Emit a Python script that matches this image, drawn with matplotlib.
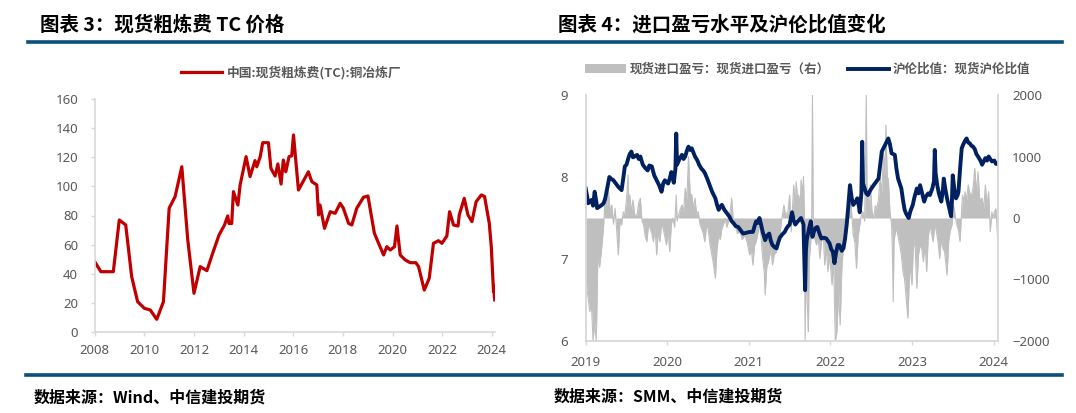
import matplotlib
matplotlib.use("Agg")
import matplotlib.pyplot as plt
from matplotlib.lines import Line2D
from matplotlib.patches import Patch

plt.rcParams['font.family'] = ['Noto Sans CJK SC', 'DejaVu Sans']

# ---- chart 3: spot TC (USD/t), decimal years ----
tc_year = [2008.00, 2008.25, 2008.75, 2008.99, 2009.25, 2009.49, 2009.73, 2010.00,
           2010.24, 2010.50, 2010.77, 2011.00, 2011.24, 2011.51, 2011.75, 2012.00,
           2012.25, 2012.52, 2012.78, 2013.01, 2013.23, 2013.36, 2013.41, 2013.52,
           2013.59, 2013.77, 2013.86, 2014.10, 2014.26, 2014.46, 2014.53, 2014.67,
           2014.77, 2015.00, 2015.10, 2015.27, 2015.38, 2015.51, 2015.60, 2015.70,
           2015.83, 2015.94, 2016.01, 2016.21, 2016.61, 2016.75, 2016.95, 2017.02,
           2017.08, 2017.26, 2017.49, 2017.69, 2017.89, 2018.02, 2018.23, 2018.36,
           2018.56, 2018.83, 2019.01, 2019.27, 2019.44, 2019.64, 2019.77, 2019.91,
           2020.08, 2020.18, 2020.31, 2020.51, 2020.71, 2020.94, 2021.05, 2021.28,
           2021.48, 2021.65, 2021.85, 2021.99, 2022.19, 2022.30, 2022.46, 2022.64,
           2022.69, 2022.89, 2023.04, 2023.20, 2023.37, 2023.58, 2023.71, 2023.90,
           2023.98, 2024.07, 2024.09, 2024.10, 2024.12]
tc_value = [48.3, 41.4, 41.4, 76.9, 73.5, 38.0, 20.8, 16.3,
            15.1, 8.7, 20.8, 85.0, 93.0, 113.5, 63.2, 26.6,
            44.9, 42.1, 55.4, 66.6, 73.5, 79.7, 74.5, 74.5,
            96.4, 87.2, 101.0, 120.4, 106.7, 117.7, 113.5, 120.4,
            130.0, 130.0, 112.4, 107.1, 115.4, 101.6, 118.1, 110.0,
            120.4, 121.0, 135.3, 97.5, 110.0, 103.2, 101.0, 80.4,
            87.2, 71.2, 82.6, 81.5, 88.4, 85.0, 74.6, 73.5,
            85.0, 92.5, 93.4, 67.8, 60.9, 52.9, 58.6, 56.3,
            58.6, 72.8, 52.9, 49.5, 47.6, 47.6, 44.9, 28.8,
            36.9, 60.9, 62.7, 60.9, 65.9, 82.6, 73.5, 72.8,
            80.4, 91.8, 80.4, 75.8, 89.5, 94.1, 93.0, 74.6,
            58.6, 27.7, 32.0, 25.0, 22.0]

# ---- chart 4: import profit (right axis) and SHFE/LME ratio (left axis) ----
pl_year = [2019.00, 2019.01, 2019.03, 2019.05, 2019.07, 2019.09, 2019.11, 2019.13,
           2019.15, 2019.17, 2019.20, 2019.22, 2019.24, 2019.26, 2019.28, 2019.30,
           2019.32, 2019.34, 2019.36, 2019.38, 2019.40, 2019.42, 2019.44, 2019.46,
           2019.48, 2019.50, 2019.52, 2019.53, 2019.54, 2019.56, 2019.58, 2019.60,
           2019.63, 2019.65, 2019.67, 2019.69, 2019.71, 2019.73, 2019.75, 2019.77,
           2019.79, 2019.81, 2019.83, 2019.85, 2019.87, 2019.89, 2019.91, 2019.93,
           2019.95, 2019.97, 2019.99, 2020.01, 2020.03, 2020.05, 2020.07, 2020.09,
           2020.11, 2020.12, 2020.14, 2020.16, 2020.18, 2020.20, 2020.22, 2020.24,
           2020.26, 2020.28, 2020.30, 2020.32, 2020.34, 2020.36, 2020.38, 2020.40,
           2020.42, 2020.44, 2020.46, 2020.48, 2020.50, 2020.52, 2020.54, 2020.56,
           2020.59, 2020.61, 2020.63, 2020.65, 2020.67, 2020.69, 2020.71, 2020.73,
           2020.75, 2020.77, 2020.79, 2020.81, 2020.83, 2020.86, 2020.89, 2020.92,
           2020.95, 2020.98, 2021.01, 2021.03, 2021.05, 2021.07, 2021.09, 2021.11,
           2021.13, 2021.15, 2021.17, 2021.19, 2021.20, 2021.22, 2021.25, 2021.27,
           2021.29, 2021.31, 2021.34, 2021.36, 2021.38, 2021.40, 2021.43, 2021.45,
           2021.48, 2021.50, 2021.52, 2021.55, 2021.57, 2021.58, 2021.60, 2021.61,
           2021.63, 2021.64, 2021.66, 2021.67, 2021.68, 2021.69, 2021.70, 2021.71,
           2021.72, 2021.73, 2021.74, 2021.75, 2021.77, 2021.78, 2021.79, 2021.81,
           2021.83, 2021.85, 2021.87, 2021.89, 2021.91, 2021.93, 2021.95, 2021.97,
           2021.99, 2022.02, 2022.04, 2022.06, 2022.08, 2022.10, 2022.12, 2022.14,
           2022.16, 2022.18, 2022.20, 2022.22, 2022.24, 2022.25, 2022.27, 2022.28,
           2022.30, 2022.32, 2022.34, 2022.36, 2022.38, 2022.40, 2022.42, 2022.44,
           2022.45, 2022.46, 2022.48, 2022.49, 2022.51, 2022.53, 2022.55, 2022.57,
           2022.59, 2022.61, 2022.63, 2022.65, 2022.67, 2022.68, 2022.70, 2022.71,
           2022.73, 2022.75, 2022.76, 2022.77, 2022.78, 2022.79, 2022.81, 2022.83,
           2022.85, 2022.87, 2022.89, 2022.91, 2022.93, 2022.95, 2022.97, 2022.98,
           2023.00, 2023.02, 2023.04, 2023.06, 2023.08, 2023.10, 2023.12, 2023.14,
           2023.16, 2023.18, 2023.20, 2023.22, 2023.24, 2023.26, 2023.28, 2023.30,
           2023.32, 2023.34, 2023.36, 2023.38, 2023.40, 2023.43, 2023.45, 2023.47,
           2023.49, 2023.51, 2023.53, 2023.55, 2023.57, 2023.59, 2023.61, 2023.62,
           2023.64, 2023.65, 2023.67, 2023.69, 2023.71, 2023.73, 2023.75, 2023.77,
           2023.79, 2023.81, 2023.83, 2023.86, 2023.88, 2023.90, 2023.92, 2023.94,
           2023.96, 2023.98, 2023.99, 2024.01, 2024.03, 2024.05, 2024.06]
pl_value = [-1000, -1089, -1300, -1523, -1400, -2000, -1700, -2000,
            -547, -800, -439, -114, 374, 200, 428, 100,
            211, -100, 157, -200, -602, -50, -114, 100,
            49, 300, 699, 150, 374, 100, 293, 50,
            49, 250, 320, -50, -114, -300, -385, -100,
            -168, -250, -385, -150, -602, -200, -385, -100,
            -168, -300, -439, -200, -547, -100, -5, -150,
            374, -50, 49, 150, 211, 100, 482, 300,
            997, 400, 374, 150, 320, 50, 103, -100,
            -168, -250, -385, -150, -168, -400, -547, -700,
            -981, -500, -276, -350, -168, -100, -5, -150,
            -60, 100, 320, -50, -114, -250, -222, -350,
            -276, -400, -602, -500, -764, -450, -385, -250,
            -114, -300, -656, -900, -1252, -800, -656, -500,
            -764, -600, -547, -300, -276, -50, 211, 50,
            103, 374, -222, 537, 200, 591, 300, 374,
            200, 618, 400, 672, 100, -2000, -900, -1198,
            -1500, -1848, -700, -547, -200, 2000, -276, -350,
            -439, -300, -656, -400, -168, -764, -500, -873,
            -600, -1089, -700, -2000, -1848, -1198, -1740, -818,
            -439, -168, -50, 157, 100, 265, -100, -276,
            -400, -818, -300, -114, 50, 103, -50, 2000,
            200, 374, 150, 537, 100, -5, 200, 157,
            300, 645, 400, 1078, 700, 1512, 500, 645,
            100, -114, -500, -1361, -400, -276, -168, -300,
            -439, -600, -873, -1000, -1306, -1631, -900, -818,
            -1089, -330, -500, -1143, -600, -439, -500, -710,
            -400, -873, -300, -114, -250, -385, -100, -222,
            -400, -656, -330, -500, -547, -927, -385, -200,
            -114, 211, 50, -114, -200, -385, 150, 374,
            250, 428, 300, 537, 400, 374, 500, 808,
            400, 753, 300, 320, 150, 537, 200, 428,
            -222, 100, -5, 103, 150, -330, 100]

ratio_year = [2019.00, 2019.02, 2019.03, 2019.05, 2019.07, 2019.09, 2019.11, 2019.13,
              2019.14, 2019.17, 2019.20, 2019.22, 2019.24, 2019.27, 2019.29, 2019.31,
              2019.34, 2019.37, 2019.40, 2019.42, 2019.44, 2019.46, 2019.48, 2019.50,
              2019.52, 2019.54, 2019.56, 2019.58, 2019.60, 2019.63, 2019.65, 2019.67,
              2019.70, 2019.73, 2019.76, 2019.78, 2019.81, 2019.84, 2019.87, 2019.90,
              2019.93, 2019.95, 2019.97, 2020.01, 2020.03, 2020.05, 2020.08, 2020.10,
              2020.11, 2020.12, 2020.15, 2020.18, 2020.20, 2020.22, 2020.24, 2020.26,
              2020.28, 2020.30, 2020.32, 2020.34, 2020.37, 2020.39, 2020.42, 2020.44,
              2020.46, 2020.49, 2020.52, 2020.55, 2020.57, 2020.59, 2020.61, 2020.63,
              2020.65, 2020.67, 2020.70, 2020.73, 2020.76, 2020.79, 2020.81, 2020.84,
              2020.87, 2020.90, 2020.93, 2020.97, 2021.01, 2021.05, 2021.07, 2021.09,
              2021.11, 2021.13, 2021.15, 2021.17, 2021.20, 2021.22, 2021.25, 2021.27,
              2021.29, 2021.32, 2021.34, 2021.36, 2021.38, 2021.41, 2021.44, 2021.46,
              2021.48, 2021.50, 2021.53, 2021.55, 2021.57, 2021.60, 2021.62, 2021.64,
              2021.66, 2021.67, 2021.69, 2021.70, 2021.71, 2021.74, 2021.76, 2021.78,
              2021.80, 2021.82, 2021.84, 2021.87, 2021.89, 2021.92, 2021.95, 2021.97,
              2021.99, 2022.01, 2022.03, 2022.05, 2022.07, 2022.09, 2022.11, 2022.14,
              2022.16, 2022.18, 2022.20, 2022.22, 2022.24, 2022.26, 2022.28, 2022.31,
              2022.33, 2022.35, 2022.36, 2022.38, 2022.39, 2022.40, 2022.42, 2022.44,
              2022.46, 2022.49, 2022.53, 2022.56, 2022.59, 2022.61, 2022.63, 2022.65,
              2022.67, 2022.69, 2022.71, 2022.73, 2022.75, 2022.77, 2022.79, 2022.81,
              2022.83, 2022.85, 2022.87, 2022.89, 2022.91, 2022.93, 2022.96, 2022.98,
              2023.01, 2023.03, 2023.06, 2023.08, 2023.10, 2023.12, 2023.15, 2023.17,
              2023.20, 2023.22, 2023.25, 2023.27, 2023.28, 2023.29, 2023.31, 2023.33,
              2023.36, 2023.38, 2023.39, 2023.41, 2023.43, 2023.45, 2023.48, 2023.49,
              2023.50, 2023.52, 2023.54, 2023.56, 2023.57, 2023.59, 2023.61, 2023.63,
              2023.65, 2023.67, 2023.69, 2023.71, 2023.73, 2023.75, 2023.77, 2023.79,
              2023.81, 2023.84, 2023.86, 2023.88, 2023.90, 2023.92, 2023.94, 2023.96,
              2023.98, 2024.01, 2024.03, 2024.05]
ratio_value = [7.86, 7.75, 7.68, 7.70, 7.72, 7.65, 7.82, 7.70,
               7.62, 7.64, 7.66, 7.68, 7.74, 7.90, 8.00, 7.98,
               7.96, 7.92, 7.88, 7.86, 7.84, 7.98, 8.13, 8.15,
               8.22, 8.28, 8.31, 8.24, 8.25, 8.27, 8.22, 8.25,
               8.15, 8.11, 8.08, 8.14, 8.13, 8.02, 7.96, 7.90,
               7.82, 7.92, 7.96, 7.92, 7.98, 8.06, 7.93, 8.10,
               8.53, 8.15, 8.22, 8.27, 8.22, 8.25, 8.32, 8.37,
               8.33, 8.35, 8.30, 8.25, 8.20, 8.15, 8.10, 8.08,
               8.05, 7.98, 7.90, 7.82, 7.78, 7.74, 7.66, 7.60,
               7.64, 7.66, 7.60, 7.56, 7.52, 7.46, 7.44, 7.40,
               7.39, 7.35, 7.31, 7.32, 7.33, 7.33, 7.40, 7.46,
               7.44, 7.50, 7.42, 7.33, 7.23, 7.28, 7.31, 7.22,
               7.17, 7.14, 7.13, 7.20, 7.26, 7.30, 7.33, 7.37,
               7.40, 7.42, 7.57, 7.47, 7.42, 7.46, 7.48, 7.50,
               7.45, 7.42, 6.62, 7.10, 7.23, 7.38, 7.46, 7.27,
               7.34, 7.38, 7.39, 7.30, 7.25, 7.26, 7.25, 7.22,
               7.19, 7.12, 7.09, 6.95, 7.08, 7.17, 7.17, 7.10,
               7.13, 7.25, 7.42, 7.65, 7.90, 7.75, 7.66, 7.70,
               7.74, 7.64, 7.57, 7.80, 8.43, 7.92, 7.86, 7.80,
               7.78, 7.84, 7.90, 7.94, 7.98, 8.15, 8.31, 8.35,
               8.39, 8.43, 8.47, 8.40, 8.29, 8.28, 8.27, 8.10,
               7.98, 7.92, 7.86, 7.72, 7.60, 7.55, 7.50, 7.58,
               7.66, 7.75, 7.86, 7.80, 7.90, 7.82, 7.70, 7.76,
               7.80, 7.78, 7.86, 7.95, 8.33, 8.05, 7.90, 7.80,
               7.70, 7.85, 7.98, 7.85, 7.74, 7.65, 7.52, 7.70,
               8.02, 7.85, 7.74, 7.78, 7.82, 8.10, 8.35, 8.40,
               8.44, 8.47, 8.42, 8.41, 8.38, 8.37, 8.34, 8.28,
               8.25, 8.20, 8.15, 8.19, 8.23, 8.20, 8.25, 8.22,
               8.19, 8.20, 8.16, 8.16]

left_xticks = list(range(2008, 2025, 2))
left_yticks = list(range(0, 161, 20))
right_xticks = list(range(2019, 2025))
ratio_ticks = [6, 7, 8, 9]
profit_ticks = [-2000, -1000, 0, 1000, 2000]

RED = '#C00000'
NAVY = '#002060'
GREY = '#BFBFBF'
AXIS = '#D9D9D9'
LABEL = '#595959'
RULE = '#0A4F7E'

fig = plt.figure(figsize=(10.76, 4.13), dpi=100)
W, H = 1076.0, 413.0


def style_ticklabels(ax, size=9.5):
    for lbl in ax.get_xticklabels() + ax.get_yticklabels():
        lbl.set_fontfamily('Noto Sans')
        lbl.set_fontweight('bold')
        lbl.set_color(LABEL)
        lbl.set_fontsize(size)


# ---------- left chart ----------
ax1 = fig.add_axes([94.7 / W, 1 - 332 / H, 400.3 / W, 233 / H])
ax1.plot(tc_year, tc_value, color=RED, lw=2.3, solid_joinstyle='round')
ax1.set_xlim(2008, 2024.13)
ax1.set_ylim(0, 160)
ax1.set_xticks(left_xticks)
ax1.set_yticks(left_yticks)
for s in ['top', 'right']:
    ax1.spines[s].set_visible(False)
for s in ['left', 'bottom']:
    ax1.spines[s].set_color(AXIS)
    ax1.spines[s].set_linewidth(1.2)
ax1.tick_params(axis='both', color=AXIS, length=3, width=1.0)
ax1.tick_params(axis='y', pad=9)
ax1.tick_params(axis='x', pad=6)
style_ticklabels(ax1)

ax1.legend(handles=[Line2D([], [], color=RED, lw=2.3)],
           labels=['中国:现货粗炼费(TC):铜冶炼厂'],
           loc='center', bbox_to_anchor=(291 / W, 1 - 73 / H),
           bbox_transform=fig.transFigure, frameon=False,
           handlelength=3.2, handletextpad=0.4,
           prop={'size': 9.2, 'weight': 'bold'}, labelcolor=LABEL)

# ---------- right chart ----------
ax2 = fig.add_axes([585.7 / W, 1 - 341 / H, 412.3 / W, 246 / H])
ax3 = ax2.twinx()
ax3.fill_between(pl_year, 0, pl_value, color=GREY, lw=0)
ax3.plot(pl_year, pl_value, color=GREY, lw=0.8)
ax3.set_ylim(-2000, 2000)
ax3.set_yticks(profit_ticks)

ax2.plot(ratio_year, ratio_value, color=NAVY, lw=2.8, solid_joinstyle='round')
ax2.set_zorder(ax3.get_zorder() + 1)
ax2.patch.set_visible(False)
ax2.set_xlim(2019, 2024.055)
ax2.set_ylim(6, 9)
ax2.set_yticks(ratio_ticks)
ax2.set_xticks(right_xticks)

for a in (ax2, ax3):
    a.spines['top'].set_visible(False)
    for s in ['left', 'right', 'bottom']:
        a.spines[s].set_color(AXIS)
        a.spines[s].set_linewidth(1.2)
ax2.tick_params(axis='y', length=0, pad=13)
ax3.tick_params(axis='y', length=0, pad=10)
ax2.tick_params(axis='x', color=AXIS, length=3, width=1.0, pad=8)
style_ticklabels(ax2)
style_ticklabels(ax3)

fig.legend(handles=[Patch(facecolor=GREY, edgecolor='none'),
                    Line2D([], [], color=NAVY, lw=2.8)],
           labels=['现货进口盈亏：现货进口盈亏（右）', '沪伦比值：现货沪伦比值'],
           loc='center', bbox_to_anchor=(807.5 / W, 1 - 69.5 / H), ncol=2,
           frameon=False, handlelength=3.3, handletextpad=0.3,
           columnspacing=1.4, prop={'size': 9, 'weight': 'bold'},
           labelcolor=LABEL)

# ---------- titles, rules, sources ----------
fig.text(40 / W, 1 - 24.5 / H, '图表 3：现货粗炼费 TC 价格', fontsize=14,
         fontweight='bold', color='black', va='center', ha='left')
fig.text(558 / W, 1 - 24.5 / H, '图表 4：进口盈亏水平及沪伦比值变化', fontsize=14,
         fontweight='bold', color='black', va='center', ha='left')

fig.add_artist(Line2D([28 / W, 1062 / W], [1 - 42.3 / H] * 2,
                      color=RULE, lw=2.6, transform=fig.transFigure))
fig.add_artist(Line2D([26 / W, 1062 / W], [1 - 374.7 / H] * 2,
                      color=RULE, lw=2.6, transform=fig.transFigure))

fig.text(34 / W, 1 - 398 / H, '数据来源：Wind、中信建投期货', fontsize=11.5,
         fontweight='bold', style='italic', color='black', va='center', ha='left')
fig.text(554 / W, 1 - 397 / H, '数据来源：SMM、中信建投期货', fontsize=11.5,
         fontweight='bold', style='italic', color='black', va='center', ha='left')

fig.savefig('out.png', dpi=100)
